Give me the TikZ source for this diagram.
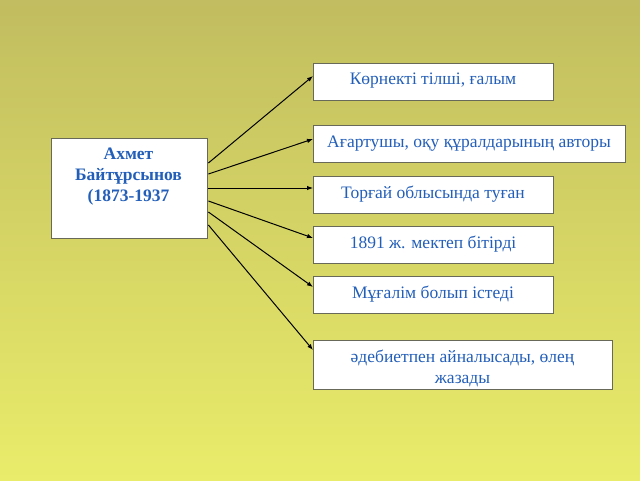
\documentclass[tikz,border=0pt]{standalone}
\usepackage{fontspec}
\setmainfont{Liberation Serif}
\usetikzlibrary{arrows.meta}
\definecolor{bgtop}{RGB}{193,189,96}
\definecolor{bgbot}{RGB}{233,236,106}
\definecolor{txtblue}{RGB}{35,95,185}
\definecolor{boxline}{RGB}{105,105,90}
\begin{document}
\begin{tikzpicture}[x=1pt,y=-1pt,
  infobox/.style={draw=boxline,line width=1.4pt,fill=white,anchor=north west,inner sep=0pt},
  infotext/.style={text=txtblue,font=\fontsize{17.5}{21}\selectfont,align=center},
  conn/.style={draw=black,line width=1pt,-{Latex[length=6pt,width=4.5pt]}}]
\shade[top color=bgtop,bottom color=bgbot] (0,0) rectangle (640,480);
\useasboundingbox (0,0) rectangle (640,480);
% main box
\node[infobox,minimum width=156pt,minimum height=100pt] (main) at (51,138) {};
\node[text=txtblue,font=\bfseries\fontsize{17.5}{21}\selectfont,align=center,anchor=north,inner sep=0pt] (maintext) at (128.5,148) {Ахмет\\Байтұрсынов\\(1873-1937};
% right boxes
\node[infobox,minimum width=240pt,minimum height=37pt] (b1) at (313,63) {};
\node[infotext] (t1) at (433,81) {Көрнекті тілші, ғалым};
\node[infobox,minimum width=312pt,minimum height=37pt] (b2) at (313,125) {};
\node[infotext] (t2) at (469,144) {Ағартушы, оқу құралдарының авторы};
\node[infobox,minimum width=240pt,minimum height=37pt] (b3) at (313,176) {};
\node[infotext] (t3) at (433,194) {Торғай облысында туған};
\node[infobox,minimum width=240pt,minimum height=37pt] (b4) at (313,226) {};
\node[infotext] (t4) at (433,244) {1891 ж. мектеп бітірді};
\node[infobox,minimum width=240pt,minimum height=37pt] (b5) at (313,276) {};
\node[infotext] (t5) at (433,294) {Мұғалім болып істеді};
\node[infobox,minimum width=299pt,minimum height=49pt] (b6) at (313,340) {};
\node[infotext] (t6) at (462.5,368) {әдебиетпен айналысады, өлең\\жазады};
% connectors
\draw[conn] ([yshift=-25pt]main.north east) -- ([yshift=-13pt]b1.north west);
\draw[conn] ([yshift=-36pt]main.north east) -- ([yshift=-14pt]b2.north west);
\draw[conn] ([yshift=-50pt]main.north east) -- ([yshift=-12pt]b3.north west);
\draw[conn] ([yshift=-63pt]main.north east) -- ([yshift=-12pt]b4.north west);
\draw[conn] ([yshift=-74pt]main.north east) -- ([yshift=-11pt]b5.north west);
\draw[conn] ([yshift=-87pt]main.north east) -- ([yshift=-10pt]b6.north west);
\end{tikzpicture}
\end{document}
